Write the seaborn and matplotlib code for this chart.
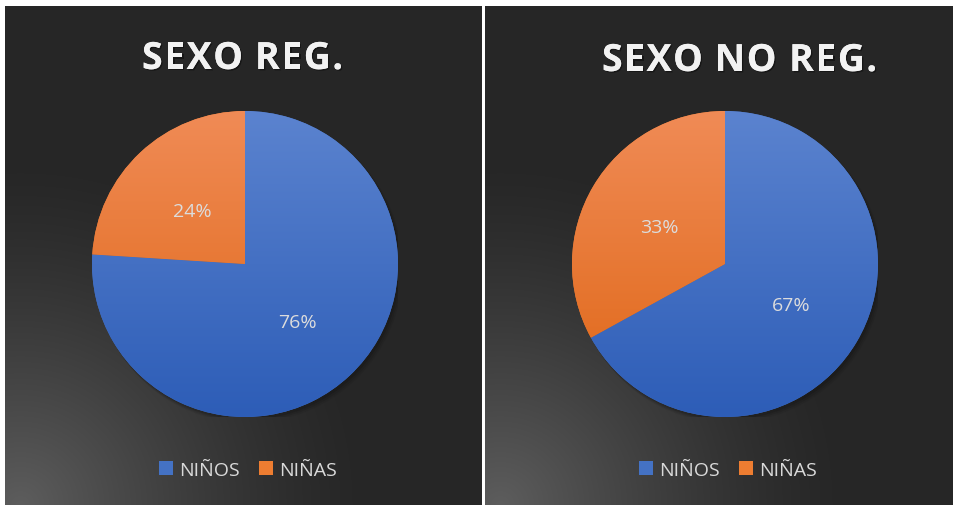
import numpy as np
import matplotlib
matplotlib.use("Agg")
import matplotlib.pyplot as plt
import matplotlib.patheffects as pe
from matplotlib.patches import Circle
import seaborn as sns

# ---- data ----
categories = ["NIÑOS", "NIÑAS"]
reg_values = [76, 24]
noreg_values = [67, 33]
titles = ["SEXO REG.", "SEXO NO REG."]

sns.set_theme(style="dark")
plt.rcParams["font.family"] = ["Open Sans", "DejaVu Sans"]

W, H = 954, 506
fig = plt.figure(figsize=(W / 100, H / 100), dpi=100)
fig.patch.set_facecolor("white")

# ---- background panels with radial glow from the bottom-left corner ----
bg = np.ones((H, W, 3))
yy, xx = np.mgrid[0:H, 0:W]
for x0, x1 in [(5, 482), (485, W)]:
    d = np.sqrt((xx - x0 - 15) ** 2 + (yy - H) ** 2)
    t = np.clip(1 - d / 350.0, 0, 1) ** 1.35
    val = (38 + (93 - 38) * t) / 255.0
    mask = (yy >= 7) & (xx >= x0) & (xx < x1)
    for c in range(3):
        bg[..., c] = np.where(mask, val, bg[..., c])
bax = fig.add_axes([0, 0, 1, 1], zorder=0)
bax.imshow(bg, extent=(0, W, 0, H), origin="upper", aspect="auto")
bax.set_xlim(0, W)
bax.set_ylim(0, H)
bax.axis("off")

palette = sns.color_palette(["#4472c4", "#ed7d31"])
grad_cols = [("#5b83cf", "#2d5db7"), ("#f08b56", "#df6615")]


def vgrad(top, bottom, n=256):
    a = np.array(matplotlib.colors.to_rgb(top))
    b = np.array(matplotlib.colors.to_rgb(bottom))
    t = np.linspace(0, 1, n)[:, None]
    return (a + (b - a) * t)[:, None, :]


renderer = fig.canvas.get_renderer()


def text_w(s, **kw):
    t = fig.text(0, 0, s, **kw)
    w = t.get_window_extent(renderer).width
    t.remove()
    return w


def spaced_title(s, x_left, x_right, y_base, **kw):
    wbar = text_w("I", **kw)
    adv = [text_w(s[:i] + "I", **kw) - wbar if i > 0 else 0.0 for i in range(len(s))]
    total = text_w(s, **kw)
    gap = (x_right - x_left - total) / (len(s) - 1)
    for i, ch in enumerate(s):
        fig.text((x_left + adv[i] + gap * i) / W, (H - y_base) / H, ch,
                 ha="left", va="baseline", **kw)


title_kw = dict(fontsize=27, fontweight="bold", color="#f2f2f2",
                path_effects=[pe.withSimplePatchShadow(offset=(1.0, -1.0),
                                                       shadow_rgbFace="black", alpha=0.4),
                              pe.Normal()])

R = 153
panels = [
    (245, reg_values, titles[0], (142, 343, 70)),
    (725, noreg_values, titles[1], (602, 877, 72)),
]
for cx, vals, title, (tl, tr, tb) in panels:
    ax = fig.add_axes([(cx - R) / W, (H - 265 - R) / H, 2 * R / W, 2 * R / H], zorder=2)
    ax.set_facecolor("none")
    # soft shadow
    for k, a in enumerate([0.12, 0.09, 0.06]):
        ax.add_patch(Circle((0.012 + 0.006 * k, -0.018 - 0.006 * k), 1.0 + 0.004 * k,
                            color="black", alpha=a, lw=0, zorder=0.5))
    wedges, texts, autotexts = ax.pie(
        vals, labels=None, colors=palette, startangle=90, counterclock=False,
        autopct="%1.0f%%", pctdistance=0.5,
        wedgeprops=dict(linewidth=0),
        textprops=dict(color="#dcdcdc", fontsize=14),
    )
    for w, (top, bot) in zip(wedges, grad_cols):
        im = ax.imshow(vgrad(top, bot), extent=(-1, 1, -1, 1), origin="upper",
                       aspect="auto", zorder=2)
        im.set_clip_path(w)
    for t in autotexts:
        t.set_zorder(5)
        x, y = t.get_position()
        t.set_position((x, y - 0.015))
    ax.set_xlim(-1, 1)
    ax.set_ylim(-1, 1)
    ax.axis("off")
    ax.legend(wedges, categories, loc="center", bbox_to_anchor=(0.51, -0.172),
              ncol=2, frameon=False, handlelength=0.72, handleheight=0.72,
              handletextpad=0.31, columnspacing=1.0, fontsize=14,
              labelcolor="#d9d9d9", borderaxespad=0)
    spaced_title(title, tl, tr, tb, **title_kw)

fig.savefig("out.png", dpi=100, facecolor=fig.get_facecolor())
